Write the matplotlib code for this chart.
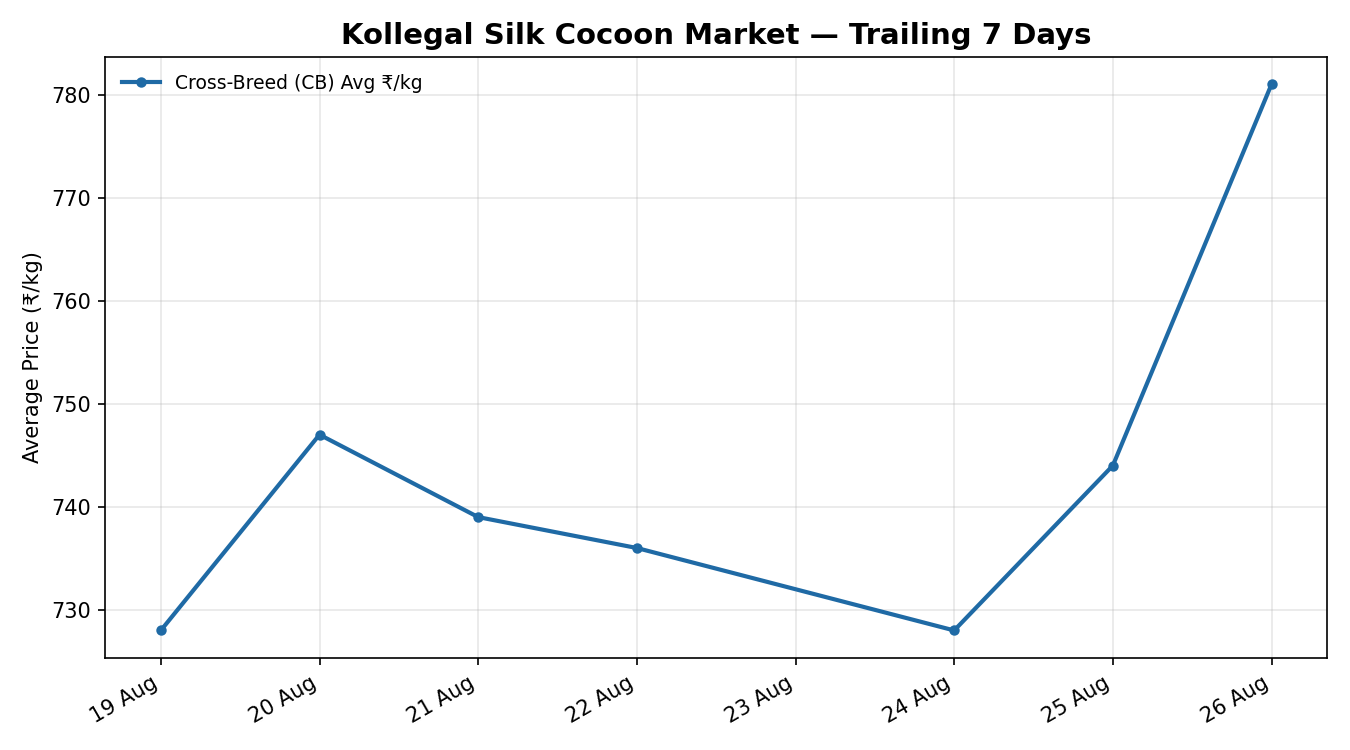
import matplotlib
matplotlib.use("Agg")
import matplotlib.pyplot as plt
import matplotlib.dates as mdates
import pandas as pd

dates = ["2024-08-19", "2024-08-20", "2024-08-21", "2024-08-22",
         "2024-08-24", "2024-08-25", "2024-08-26"]
cb_avg = [728, 747, 739, 736, 728, 744, 781]

x = pd.to_datetime(dates)

fig, ax = plt.subplots(figsize=(9, 5), dpi=150)
ax.plot(x, cb_avg, marker="o", markersize=4, linewidth=2, color="#1f6aa5",
        label="Cross-Breed (CB) Avg ₹/kg")
ax.set_title("Kollegal Silk Cocoon Market — Trailing 7 Days", fontsize=14, fontweight="bold")
ax.set_ylabel("Average Price (₹/kg)", fontsize=10)
ax.xaxis.set_major_locator(mdates.DayLocator())
ax.xaxis.set_major_formatter(mdates.DateFormatter("%d %b"))
ax.tick_params(labelsize=10)
ax.grid(True, alpha=0.3)
ax.legend(loc="upper left", frameon=False, fontsize=9)
fig.autofmt_xdate()
fig.subplots_adjust(left=0.078, right=0.983, top=0.924, bottom=0.123)
fig.savefig("out.png", dpi=150)
